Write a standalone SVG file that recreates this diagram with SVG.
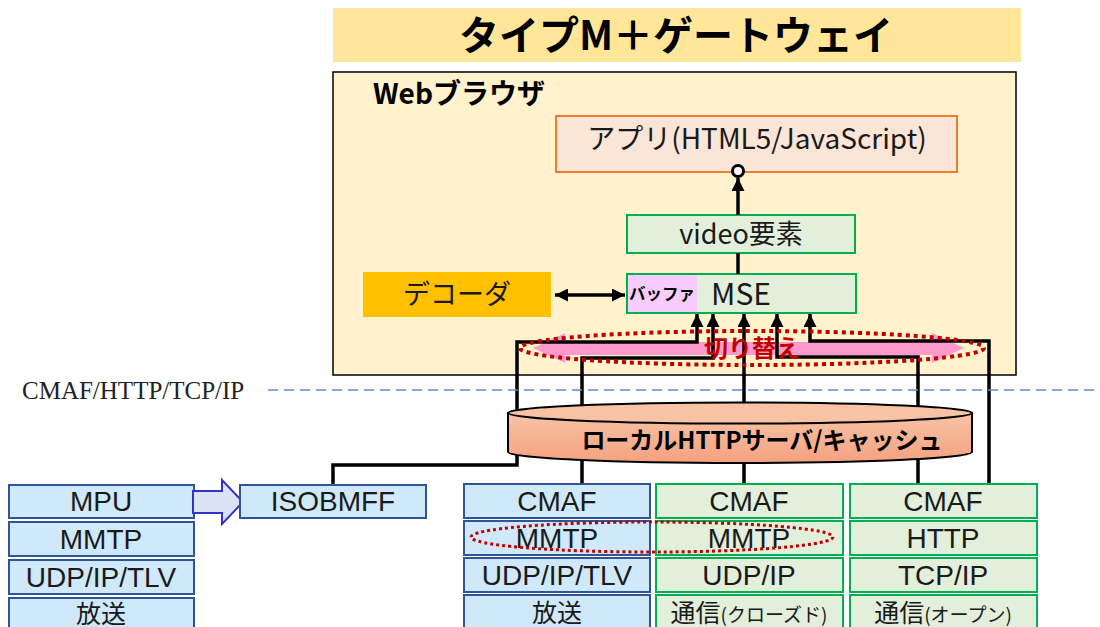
<svg xmlns="http://www.w3.org/2000/svg" width="1100" height="627" viewBox="0 0 1100 627">
<defs>
<style>
text{font-family:"Noto Sans CJK JP","Noto Sans",sans-serif;fill:#1a1a1a}
.t26{font-size:25px;text-anchor:middle}
.lat{font-family:"Liberation Sans",Arial,sans-serif;font-size:28px;text-anchor:middle}
.blue{fill:#CFE9FB;stroke:#2F5597;stroke-width:2}
.green{fill:#E2EFDA;stroke:#00B050;stroke-width:2}
.conn{fill:none;stroke:#000;stroke-width:3.5}
</style>
<marker id="ah" viewBox="0 0 12 12" refX="12" refY="6" markerWidth="13" markerHeight="13" markerUnits="userSpaceOnUse" orient="auto-start-reverse">
<path d="M0,0 L12,6 L0,12 Z" fill="#000"/>
</marker>
<linearGradient id="cyl" x1="0" y1="0" x2="0" y2="1">
<stop offset="0" stop-color="#F8C4A6"/>
<stop offset="1" stop-color="#F4A17F"/>
</linearGradient>
</defs>

<g id="title">
<rect x="333" y="8" width="688" height="54" fill="#FFE699"/>
<text x="676" y="50" style="font-size:40px;font-weight:bold;text-anchor:middle;fill:#000">タイプM＋ゲートウェイ</text>
</g>

<g id="browser">
<rect x="333" y="72" width="683" height="303" fill="#FFF2CC" stroke="#000" stroke-width="1.5"/>
<text x="373" y="104" style="font-size:28px;font-weight:bold;fill:#000">Webブラウザ</text>
</g>

<g id="app">
<rect x="556" y="116" width="401" height="56" fill="#FBE5D6" stroke="#ED7D31" stroke-width="2"/>
<text x="757" y="149" style="font-size:28px;text-anchor:middle">アプリ(HTML5/JavaScript)</text>
</g>

<g id="video">
<rect x="627" y="215" width="228" height="38" class="green"/>
<text x="741" y="244" style="font-size:27px;text-anchor:middle">video要素</text>
</g>

<g id="decoder">
<rect x="363" y="272" width="188" height="45" fill="#FFC000"/>
<text x="457" y="304" style="font-size:27px;text-anchor:middle">デコーダ</text>
</g>

<g id="mse">
<rect x="627" y="274" width="229" height="39" class="green"/>
<rect x="628" y="275" width="69" height="37" fill="#F9CCFF"/>
<text x="629" y="300" style="font-size:16.5px;font-weight:bold;fill:#000">バッファ</text>
<text x="741" y="305" style="font-size:30px;text-anchor:middle">MSE</text>
</g>

<g id="switch-arrow">
<path d="M533,348 L565,333 L565,342 L932,342 L932,333 L964,348 L932,363 L932,355 L565,355 L565,363 Z" fill="#FF99CC"/>
</g>

<g id="connectors">
<line x1="738" y1="215" x2="738" y2="178" class="conn" marker-end="url(#ah)"/>
<circle cx="738" cy="171" r="5.5" fill="#fff" stroke="#000" stroke-width="3"/>
<line x1="738" y1="253" x2="738" y2="274" class="conn"/>
<line x1="555" y1="295" x2="625" y2="295" class="conn" marker-start="url(#ah)" marker-end="url(#ah)"/>
<path d="M333,485 V465 H517 V342 H697 V314" class="conn" marker-end="url(#ah)"/>
<path d="M582,485 V358 H713 V314" class="conn" marker-end="url(#ah)"/>
<path d="M744,485 V314" class="conn" marker-end="url(#ah)"/>
<path d="M918,485 V357 H777 V314" class="conn" marker-end="url(#ah)"/>
<path d="M989,485 V341 H810 V314" class="conn" marker-end="url(#ah)"/>
</g>

<g id="switch-label">
<ellipse cx="752" cy="348" rx="232" ry="17" fill="none" stroke="#C00000" stroke-width="4" stroke-dasharray="4 4"/>
<text x="752" y="357" style="font-size:24px;font-weight:bold;text-anchor:middle;fill:#C00000">切り替え</text>
</g>

<g id="layer-label">
<line x1="268" y1="390" x2="1100" y2="390" stroke="#5B8FD0" stroke-width="1.5" stroke-dasharray="10 6"/>
<text x="22" y="399" style="font-family:'Liberation Serif',serif;font-size:25px;fill:#222">CMAF/HTTP/TCP/IP</text>
</g>

<g id="cache">
<path d="M508,413 V452 A232,11 0 0 0 972,452 V413 Z" fill="url(#cyl)" stroke="#000" stroke-width="2"/>
<ellipse cx="740" cy="413" rx="232" ry="10.5" fill="#F8C3A5" stroke="#000" stroke-width="2"/>
<text x="762" y="449" style="font-size:24px;font-weight:bold;text-anchor:middle;fill:#000">ローカルHTTPサーバ/キャッシュ</text>
</g>

<g id="broadcast-stack">
<rect x="9" y="485" width="185" height="33" class="blue"/>
<text x="101" y="511" class="lat">MPU</text>
<rect x="9" y="522" width="185" height="34" class="blue"/>
<text x="101" y="549" class="lat">MMTP</text>
<rect x="9" y="560" width="185" height="34" class="blue"/>
<text x="101" y="587" class="lat">UDP/IP/TLV</text>
<rect x="9" y="598" width="185" height="34" class="blue"/>
<text x="101" y="623" class="t26">放送</text>
</g>

<g id="convert-arrow">
<path d="M193,491 H222 V480 L243,502 L222,524 V513 H193 Z" fill="#DAE3F3" stroke="#3333CC" stroke-width="2"/>
</g>

<g id="isobmff">
<rect x="240" y="485" width="186" height="33" class="blue"/>
<text x="333" y="511" class="lat">ISOBMFF</text>
</g>

<g id="stack-broadcast">
<rect x="464" y="484" width="186" height="34" class="blue"/>
<text x="557" y="511" class="lat">CMAF</text>
<rect x="464" y="521" width="186" height="34" class="blue"/>
<text x="557" y="548" class="lat">MMTP</text>
<rect x="464" y="558" width="186" height="34" class="blue"/>
<text x="557" y="585" class="lat">UDP/IP/TLV</text>
<rect x="464" y="595" width="186" height="36" class="blue"/>
<text x="557" y="622" class="t26">放送</text>
</g>

<g id="stack-closed">
<rect x="656" y="484" width="187" height="34" class="green"/>
<text x="749" y="511" class="lat">CMAF</text>
<rect x="656" y="521" width="187" height="34" class="green"/>
<text x="749" y="548" class="lat">MMTP</text>
<rect x="656" y="558" width="187" height="34" class="green"/>
<text x="749" y="585" class="lat">UDP/IP</text>
<rect x="656" y="595" width="187" height="36" class="green"/>
<text x="749" y="622" class="t26">通信<tspan style="font-size:19px">(クローズド)</tspan></text>
</g>

<g id="stack-open">
<rect x="850" y="484" width="187" height="34" class="green"/>
<text x="943" y="511" class="lat">CMAF</text>
<rect x="850" y="521" width="187" height="34" class="green"/>
<text x="943" y="548" class="lat">HTTP</text>
<rect x="850" y="558" width="187" height="34" class="green"/>
<text x="943" y="585" class="lat">TCP/IP</text>
<rect x="850" y="595" width="187" height="36" class="green"/>
<text x="943" y="622" class="t26">通信<tspan style="font-size:19px">(オープン)</tspan></text>
</g>

<g id="mmtp-highlight">
<ellipse cx="652" cy="537" rx="181" ry="15" fill="none" stroke="#C00000" stroke-width="3" stroke-dasharray="3 3"/>
</g>
</svg>
